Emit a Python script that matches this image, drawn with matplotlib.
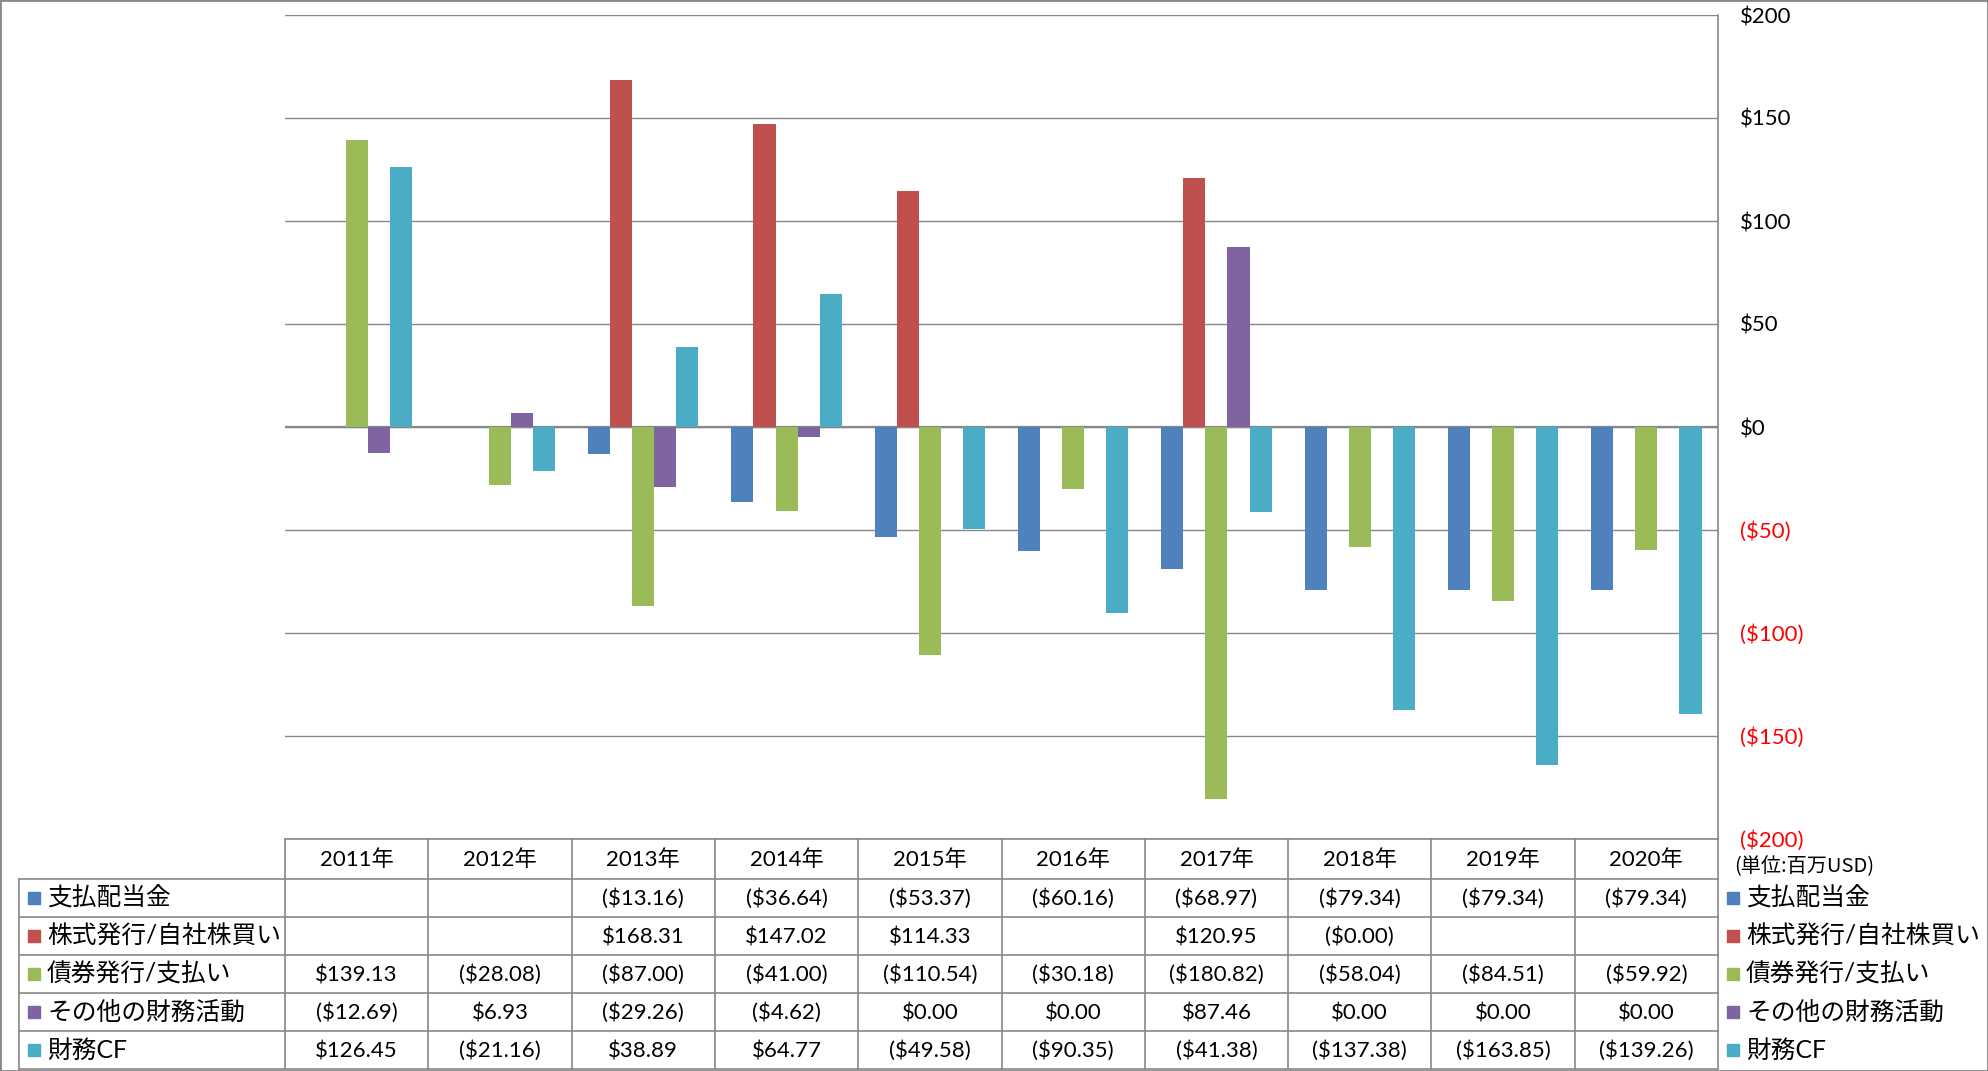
import numpy as np
import matplotlib
matplotlib.use("Agg")
import matplotlib.pyplot as plt
import matplotlib.transforms as mtrans
from matplotlib.lines import Line2D
from matplotlib.patches import Rectangle

# === Daten ===
years = ["2011年", "2012年", "2013年", "2014年", "2015年",
         "2016年", "2017年", "2018年", "2019年", "2020年"]

dividends = [np.nan, np.nan, -13.16, -36.64, -53.37, -60.16, -68.97, -79.34, -79.34, -79.34]
stock = [np.nan, np.nan, 168.31, 147.02, 114.33, np.nan, 120.95, -0.0, np.nan, np.nan]
debt = [139.13, -28.08, -87.00, -41.00, -110.54, -30.18, -180.82, -58.04, -84.51, -59.92]
other = [-12.69, 6.93, -29.26, -4.62, 0.00, 0.00, 87.46, 0.00, 0.00, 0.00]
fin_cf = [126.45, -21.16, 38.89, 64.77, -49.58, -90.35, -41.38, -137.38, -163.85, -139.26]

series_names = ["支払配当金", "株式発行/自社株買い", "債券発行/支払い", "その他の財務活動", "財務CF"]
series_values = [dividends, stock, debt, other, fin_cf]
colors = ["#4F81BD", "#C0504D", "#9BBB59", "#8064A2", "#4BACC6"]

y_ticks = [-200, -150, -100, -50, 0, 50, 100, 150, 200]
unit_label = "(単位:百万USD)"

# === Layout ===
W, H = 1988, 1071
plt.rcParams['font.family'] = ['Lato', 'Noto Sans CJK JP', 'DejaVu Sans']
grid_col = "#888888"


def fx(x):
    return x / W


def fy(y):
    return 1 - y / H


def money(v):
    if np.isnan(v):
        return ""
    if v < 0 or np.signbit(v):
        return "(${:.2f})".format(abs(v))
    return "${:.2f}".format(v)


fig = plt.figure(figsize=(W / 100, H / 100), dpi=100)
ax = fig.add_axes([fx(285), fy(839), fx(1718) - fx(285), fy(15) - fy(839)])

x = np.arange(len(years))
bw = 0.154
for j, (vals, col) in enumerate(zip(series_values, colors)):
    vals = np.array(vals, dtype=float)
    ok = ~np.isnan(vals)
    ax.bar(x[ok] + (j - 2) * bw, vals[ok], width=bw, color=col, zorder=3)

ax.set_xlim(-0.5, len(years) - 0.5)
ax.set_ylim(-200, 200)
ax.set_xticks([])
ax.set_yticks(y_ticks)
ax.yaxis.tick_right()
ax.tick_params(axis='y', length=0, pad=16, labelsize=16)
ax.set_yticklabels(["${}".format(t) if t >= 0 else "(${})".format(-t) for t in y_ticks])
for t, lab in zip(y_ticks, ax.get_yticklabels()):
    lab.set_color("black" if t >= 0 else "#FF0000")
ax.grid(axis='y', color=grid_col, lw=1, zorder=0)
ax.axhline(0, color=grid_col, lw=1.6, zorder=2)
for s in ["top", "bottom", "left"]:
    ax.spines[s].set_visible(False)
ax.spines["right"].set_color(grid_col)
ax.spines["right"].set_linewidth(1.2)

# === Tabelle unter dem Diagramm ===
blend = mtrans.blended_transform_factory(ax.transData, fig.transFigure)
row_edges = [839, 879, 917, 955, 993, 1031, 1069]
row_mid = [(a + b) / 2 for a, b in zip(row_edges[:-1], row_edges[1:])]

for i in range(len(years) + 1):
    fig.add_artist(Line2D([i - 0.5, i - 0.5], [fy(839), fy(1069)], transform=blend,
                          color=grid_col, lw=1.2))
fig.add_artist(Line2D([fx(285), fx(1718)], [fy(839), fy(839)], transform=fig.transFigure,
                      color=grid_col, lw=1.2))
for yy in row_edges[1:]:
    fig.add_artist(Line2D([fx(19), fx(1718)], [fy(yy), fy(yy)], transform=fig.transFigure,
                          color=grid_col, lw=1.2))
fig.add_artist(Line2D([fx(19), fx(19)], [fy(879), fy(1069)], transform=fig.transFigure,
                      color=grid_col, lw=1.2))

for i, yr in enumerate(years):
    fig.text(i, fy(row_mid[0] + 1), yr, transform=blend, ha='center', va='center', fontsize=16)

for r, (name, vals, col) in enumerate(zip(series_names, series_values, colors)):
    ym = row_mid[r + 1]
    for i, v in enumerate(vals):
        fig.text(i, fy(ym + 1), money(v), transform=blend, ha='center', va='center', fontsize=16)
    # linke Legende
    fig.add_artist(Rectangle((fx(28), fy(ym + 6)), fx(12), 12 / H, transform=fig.transFigure,
                             color=col))
    fig.text(fx(47), fy(ym), name, ha='left', va='center', fontsize=17.8)
    # rechte Legende
    fig.add_artist(Rectangle((fx(1727), fy(ym + 6)), fx(12), 12 / H, transform=fig.transFigure,
                             color=col))
    fig.text(fx(1746), fy(ym), name, ha='left', va='center', fontsize=17.8)

fig.text(fx(1734), fy(867), unit_label, ha='left', va='center', fontsize=14.5,
         family=['Noto Sans CJK JP'])

# Rahmen
fig.add_artist(Rectangle((0, 0), 1, 1, transform=fig.transFigure, fill=False,
                         ec=grid_col, lw=2))

fig.savefig("out.png", dpi=100)
